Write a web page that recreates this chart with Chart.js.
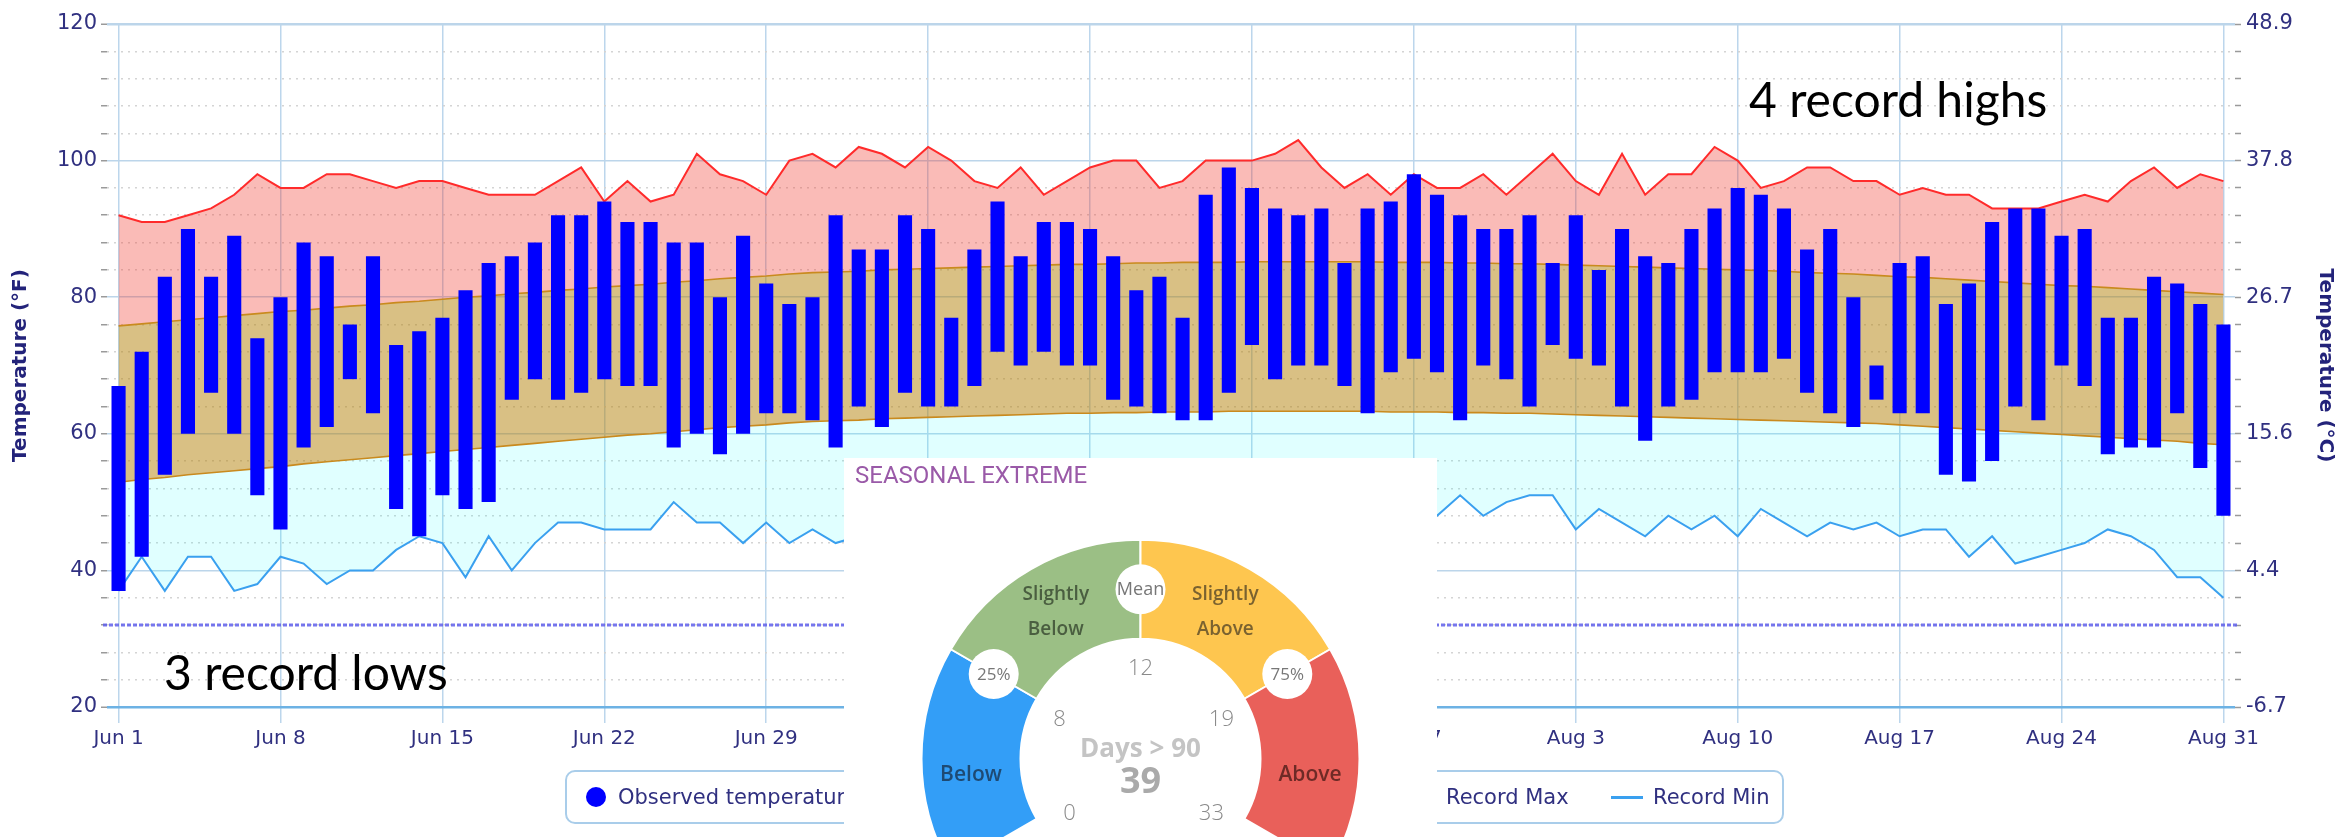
<!DOCTYPE html>
<html>
<head>
<meta charset="utf-8">
<script src="https://cdn.jsdelivr.net/npm/chart.js@4.4.1/dist/chart.umd.min.js"></script>
<style>
html,body{margin:0;padding:0;background:#fff;overflow:hidden;}
#wrap{position:relative;width:2343px;height:837px;overflow:hidden;background:#fff;}
#main{position:absolute;left:0;top:0;}
#legend{position:absolute;left:565px;top:770px;width:1219px;height:54px;border:2px solid #a9cdea;border-radius:10px;box-sizing:border-box;font-family:'DejaVu Sans',sans-serif;font-size:21px;color:#303080;}
#legend .li{position:absolute;top:0;height:50px;line-height:50px;white-space:nowrap;}
#legend .dot{position:absolute;top:15px;width:20px;height:20px;border-radius:50%;background:#0000ff;}
#legend .ln{position:absolute;top:24px;width:32px;height:2.5px;}
#gaugeBox{position:absolute;left:844px;top:458px;width:593px;height:379px;background:#fff;overflow:hidden;}
#gauge{position:absolute;left:0;top:0;}
</style>
</head>
<body>
<div id="wrap">
  <canvas id="main" width="2343" height="837"></canvas>
  <div id="legend">
    <span class="dot" style="left:19px"></span><span class="li" style="left:51px">Observed temperature</span>
    <span class="ln" style="left:330px;background:#d8c080;height:14px;top:18px"></span><span class="li" style="left:372px">Normal Range</span>
    <span class="ln" style="left:833px;background:#ff2b2b"></span><span class="li" style="left:879px">Record Max</span>
    <span class="ln" style="left:1044px;background:#3aa0ef"></span><span class="li" style="left:1086px">Record Min</span>
  </div>
  <div id="gaugeBox"><canvas id="gauge" width="593" height="492"></canvas></div>
</div>
<script>
// ---------- DATA ----------
const months = [['Jun', 30], ['Jul', 31], ['Aug', 31]];
const categories = [];
months.forEach(([m, n]) => { for (let d = 1; d <= n; d++) categories.push(m + ' ' + d); });

const xTickLabels = ['Jun 1','Jun 8','Jun 15','Jun 22','Jun 29','Jul 6','Jul 13','Jul 20','Jul 27','Aug 3','Aug 10','Aug 17','Aug 24','Aug 31'];
const yTicksF = [20, 40, 60, 80, 100, 120];
const yTicksC = ['-6.7', '4.4', '15.6', '26.7', '37.8', '48.9'];
const FREEZING_F = 32;

const obsMax = [
  67,72,83,90,83,89,74,80,88,86,76,86,73,75,77,
  81,85,86,88,92,92,94,91,91,88,88,80,89,82,79,
  80,92,87,87,92,90,77,87,94,86,91,91,90,86,81,
  83,77,95,99,96,93,92,93,85,93,94,98,95,92,90,90,
  92,85,92,84,90,86,85,90,93,96,95,93,87,90,80,
  70,85,86,79,82,91,93,93,89,90,77,77,83,82,79,76
];
const obsMin = [
  37,42,54,60,66,60,51,46,58,61,68,63,49,45,51,
  49,50,65,68,65,66,68,67,67,58,60,57,60,63,63,
  62,58,64,61,66,64,64,67,72,70,72,70,70,65,64,
  63,62,62,66,73,68,70,70,67,63,69,71,69,62,70,68,
  64,73,71,70,64,59,64,65,69,69,69,71,66,63,61,
  65,63,63,54,53,56,64,62,70,67,57,58,58,63,55,48
];
const recordMax = [
  92,91,91,92,93,95,98,96,96,98,98,97,96,97,97,
  96,95,95,95,97,99,94,97,94,95,101,98,97,95,100,
  101,99,102,101,99,102,100,97,96,99,95,97,99,100,100,
  96,97,100,100,100,101,103,99,96,98,95,98,96,96,98,95,
  98,101,97,95,101,95,98,98,102,100,96,97,99,99,97,
  97,95,96,95,95,93,93,93,94,95,94,97,99,96,98,97
];
const normalMax = [
  75.8,76.1,76.4,76.7,77.0,77.3,77.6,77.9,78.1,78.4,78.7,78.9,79.2,79.4,79.7,
  80.0,80.2,80.5,80.7,81.0,81.2,81.5,81.7,81.9,82.2,82.4,82.7,82.9,83.1,83.4,
  83.6,83.7,83.8,84.0,84.1,84.2,84.3,84.4,84.5,84.6,84.7,84.8,84.8,84.9,85.0,
  85.0,85.1,85.1,85.1,85.2,85.2,85.2,85.2,85.2,85.2,85.1,85.1,85.1,85.0,85.0,84.9,
  84.9,84.8,84.7,84.6,84.5,84.4,84.3,84.2,84.1,84.0,83.9,83.8,83.6,83.5,83.4,
  83.2,83.0,82.9,82.7,82.5,82.3,82.1,81.9,81.7,81.6,81.4,81.2,81.0,80.8,80.6,80.4
];
const normalMin = [
  52.9,53.3,53.6,54.0,54.3,54.6,54.9,55.2,55.6,55.9,56.2,56.5,56.8,57.1,57.4,
  57.7,58.0,58.3,58.6,58.9,59.2,59.5,59.8,60.0,60.3,60.6,60.9,61.1,61.3,61.6,
  61.8,61.9,62.0,62.2,62.3,62.4,62.5,62.6,62.7,62.8,62.9,63.0,63.0,63.1,63.1,
  63.2,63.2,63.2,63.3,63.3,63.3,63.3,63.3,63.3,63.3,63.2,63.2,63.2,63.1,63.1,63.0,
  63.0,62.9,62.8,62.7,62.6,62.5,62.4,62.3,62.2,62.1,62.0,61.9,61.8,61.7,61.6,
  61.5,61.3,61.1,60.9,60.7,60.5,60.3,60.1,59.9,59.7,59.5,59.3,59.1,58.9,58.6,58.4
];
const recordMin = [
  37,42,37,42,42,37,38,42,41,38,40,40,43,45,44,
  39,45,40,44,47,47,46,46,46,50,47,47,44,47,44,
  46,44,45,46,47,45,48,46,47,49,47,46,48,47,49,
  48,46,48,49,47,48,50,48,47,49,48,47,48,51,48,50,
  51,51,46,49,47,45,48,46,48,45,49,47,45,47,46,
  47,45,46,46,42,45,41,42,43,44,46,45,43,39,39,36
];

// gauge inset
const gaugeTitle = 'SEASONAL EXTREME';
const gaugeSegments = [['Below'], ['Slightly', 'Below'], ['Slightly', 'Above'], ['Above']];
const gaugeWeights = [1, 1, 1, 1];
const gaugeBreaks = ['25%', 'Mean', '75%'];
const gaugeTicks = [0, 8, 12, 19, 33];
const gaugeMetric = 'Days > 90';
const gaugeValue = 39;

// annotations
const noteHigh = '4 record highs';
const noteLow = '3 record lows';

// ---------- MAIN CHART ----------
const NAVY = '#303080';
const isMajor = v => yTicksF.indexOf(v) >= 0;

const extrasPlugin = {
  id: 'extras',
  beforeDatasetsDraw(chart) {
    const {ctx, chartArea, scales} = chart;
    const py = scales.y.getPixelForValue(FREEZING_F);
    ctx.save();
    ctx.strokeStyle = 'rgba(95,95,235,0.85)';
    ctx.lineWidth = 3;
    ctx.setLineDash([4, 2]);
    ctx.beginPath();
    ctx.moveTo(chartArea.left - 4, py);
    ctx.lineTo(chartArea.right + 4, py);
    ctx.stroke();
    ctx.restore();
  },
  afterDraw(chart) {
    const {ctx} = chart;
    ctx.save();
    ctx.fillStyle = '#000';
    ctx.font = '48px Lato, "Open Sans", sans-serif';
    ctx.textAlign = 'left';
    ctx.textBaseline = 'alphabetic';
    ctx.fillText(noteHigh, 1749, 117);
    ctx.fillText(noteLow, 164, 690);
    ctx.restore();
  }
};

new Chart(document.getElementById('main').getContext('2d'), {
  type: 'bar',
  data: {
    labels: categories,
    datasets: [
      { type: 'bar', label: 'Observed temperature', data: obsMin.map((v, i) => [v, obsMax[i]]),
        backgroundColor: '#0000ff', borderWidth: 0, barPercentage: 0.61, categoryPercentage: 1, order: 0 },
      { type: 'line', label: 'Record Max', data: recordMax, borderColor: '#ff2b2b', borderWidth: 2,
        pointRadius: 0, tension: 0, fill: 2, backgroundColor: 'rgba(240,60,50,0.35)', order: 4 },
      { type: 'line', label: 'Normal Max', data: normalMax, borderColor: '#c98a1e', borderWidth: 1.6,
        pointRadius: 0, tension: 0, fill: 3, backgroundColor: 'rgba(180,130,10,0.5)', order: 3 },
      { type: 'line', label: 'Normal Min', data: normalMin, borderColor: '#c98a1e', borderWidth: 1.6,
        pointRadius: 0, tension: 0, fill: 4, backgroundColor: 'rgba(0,255,255,0.12)', order: 2 },
      { type: 'line', label: 'Record Min', data: recordMin, borderColor: '#3aa0ef', borderWidth: 2,
        pointRadius: 0, tension: 0, fill: false, order: 1 }
    ]
  },
  options: {
    responsive: false,
    animation: false,
    devicePixelRatio: 1,
    layout: { padding: { top: 24, bottom: 0, left: 0, right: 0 } },
    plugins: { legend: { display: false }, tooltip: { enabled: false } },
    scales: {
      x: {
        type: 'category',
        offset: true,
        grid: {
          offset: false,
          color: c => (c.tick && xTickLabels.indexOf(categories[c.index]) >= 0) ? '#bcd6ec' : 'rgba(0,0,0,0)',
          lineWidth: 1.5,
          tickLength: 16
        },
        border: { display: false },
        ticks: {
          autoSkip: false, maxRotation: 0, minRotation: 0, padding: 4,
          color: NAVY, font: { family: "'DejaVu Sans', sans-serif", size: 20 },
          callback: (v, i) => xTickLabels.indexOf(categories[i]) >= 0 ? categories[i] : ''
        },
        afterFit(s) { s.height = 130; }
      },
      y: {
        position: 'left', min: 20, max: 120,
        ticks: {
          stepSize: 4, autoSkip: false, padding: 4,
          color: NAVY, font: { family: "'DejaVu Sans', sans-serif", size: 21 },
          callback: v => isMajor(v) ? String(v) : ''
        },
        grid: {
          color: c => c.tick ? (isMajor(c.tick.value) ? (c.tick.value === 20 ? '#6db2e4' : '#bcd5ea') : '#d4d4d4') : '#bcd5ea',
          lineWidth: c => c.tick && (c.tick.value === 20 || c.tick.value === 120) ? 2.5 : 1.5,
          tickColor: '#9a9a9a', tickLength: 6, tickWidth: 1.5
        },
        border: { display: false, dash: c => (c.tick && !isMajor(c.tick.value)) ? [2, 5] : [] },
        title: { display: true, text: 'Temperature (°F)', color: '#23237a',
          font: { family: "'DejaVu Sans', sans-serif", size: 20, weight: 'bold' }, padding: { top: 9, bottom: 0 } },
        afterFit(s) { s.width = 107; }
      },
      y2: {
        position: 'right', min: 20, max: 120,
        ticks: {
          stepSize: 4, autoSkip: false, padding: 5,
          color: NAVY, font: { family: "'DejaVu Sans', sans-serif", size: 21 },
          callback: v => { const k = yTicksF.indexOf(v); return k >= 0 ? yTicksC[k] : ''; }
        },
        grid: { drawOnChartArea: false, tickColor: '#9a9a9a', tickLength: 6, tickWidth: 1.5 },
        border: { display: false },
        title: { display: true, text: 'Temperature (°C)', color: '#23237a',
          font: { family: "'DejaVu Sans', sans-serif", size: 20, weight: 'bold' }, padding: { top: 6, bottom: 0 } },
        afterFit(s) { s.width = 108; }
      }
    }
  },
  plugins: [extrasPlugin]
});

// ---------- GAUGE INSET ----------
const gaugeTextColors = ['#1e4a73', '#4a5e40', '#7a6230', '#6e2a26'];
const gaugePlugin = {
  id: 'gaugeText',
  afterDatasetsDraw(chart) {
    const {ctx} = chart;
    const arcs = chart.getDatasetMeta(0).data;
    const cx = arcs[0].x, cy = arcs[0].y;
    const rIn = arcs[0].innerRadius, rOut = arcs[0].outerRadius;
    const rMid = (rIn + rOut) / 2;
    const deg = Math.PI / 180;
    ctx.save();
    // title
    ctx.fillStyle = '#9a5aa8';
    ctx.font = '24px Roboto, sans-serif';
    ctx.textAlign = 'left'; ctx.textBaseline = 'alphabetic';
    ctx.fillText(gaugeTitle, 11, 25);
    // segment labels
    ctx.textAlign = 'center'; ctx.textBaseline = 'middle';
    arcs.forEach((a, i) => {
      const p = a.getCenterPoint();
      const lines = gaugeSegments[i];
      const single = lines.length === 1;
      ctx.font = (single ? '600 21px' : '600 19px') + ' "Open Sans", sans-serif';
      ctx.fillStyle = gaugeTextColors[i];
      const yOff = single ? 16 : 0;
      lines.forEach((t, j) => ctx.fillText(t, p.x, p.y + yOff + (j - (lines.length - 1) / 2) * 35));
    });
    // break circles
    for (let i = 0; i < 3; i++) {
      const ang = arcs[i].endAngle;
      const x = cx + rMid * Math.cos(ang), y = cy + rMid * Math.sin(ang);
      ctx.beginPath(); ctx.arc(x, y, 25, 0, Math.PI * 2); ctx.fillStyle = '#fff'; ctx.fill();
      ctx.fillStyle = '#777';
      ctx.font = (i === 1 ? '18px' : '17px') + ' "Open Sans", sans-serif';
      ctx.fillText(gaugeBreaks[i], x, y + 1);
    }
    // inner tick numbers
    const angs = [arcs[0].startAngle - 8 * deg, arcs[0].endAngle - 4 * deg, arcs[1].endAngle,
                  arcs[2].endAngle + 4 * deg, arcs[3].endAngle + 8 * deg];
    ctx.fillStyle = '#8a8a8a';
    ctx.font = '300 22px "Open Sans", sans-serif';
    const rT = rIn - 30;
    angs.forEach((ang, i) => {
      ctx.fillText(String(gaugeTicks[i]), cx + rT * Math.cos(ang), cy + rT * Math.sin(ang));
    });
    // center
    ctx.fillStyle = '#c4c4c4';
    ctx.font = 'bold 26px "Open Sans", sans-serif';
    ctx.fillText(gaugeMetric, cx, cy - 9);
    ctx.fillStyle = '#aaaaaa';
    ctx.font = 'bold 36px "Open Sans", sans-serif';
    ctx.fillText(String(gaugeValue), cx, cy + 24);
    ctx.restore();
  }
};

new Chart(document.getElementById('gauge').getContext('2d'), {
  type: 'doughnut',
  data: {
    labels: gaugeSegments.map(l => l.join(' ')),
    datasets: [{ data: gaugeWeights, backgroundColor: ['#339ef7', '#9bbf85', '#fec64f', '#e9605a'],
      borderColor: '#ffffff', borderWidth: 2 }]
  },
  options: {
    responsive: false, animation: false, devicePixelRatio: 1,
    rotation: -120, circumference: 240, radius: 219, cutout: '54.8%',
    layout: { padding: 0 },
    plugins: { legend: { display: false }, tooltip: { enabled: false } }
  },
  plugins: [gaugePlugin]
});
</script>
</body>
</html>
